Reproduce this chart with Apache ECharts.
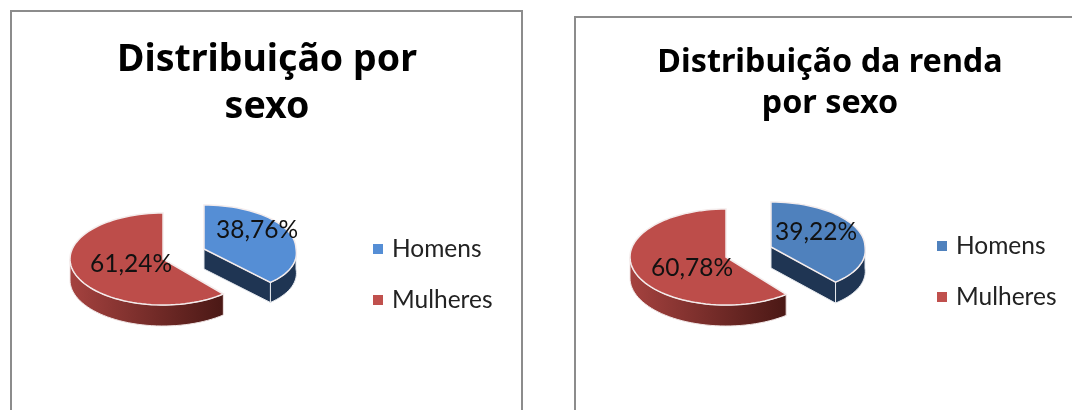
<!DOCTYPE html>
<html>
<head>
<meta charset="utf-8">
<style>
  html, body { margin: 0; padding: 0; background: #fff; }
  #chart { width: 1072px; height: 410px; }
</style>
<script src="https://cdn.jsdelivr.net/npm/echarts@6/dist/echarts.min.js"></script>
</head>
<body>
<div id="chart"></div>
<script>
// dados
var categorias = ["Homens", "Mulheres"];
var sexoValores = [38.76, 61.24];
var rendaValores = [39.22, 60.78];
var tituloSexo = "Distribuição por\nsexo";
var tituloRenda = "Distribuição da renda\npor sexo";

var TEXT_FONT = "Lato";
var TITLE_FONT = "Noto Sans";

// ponto da elipse, angulo em graus no sentido horario a partir do topo
function pt(g, deg, depth) {
  var r = deg * Math.PI / 180;
  var dy = -g.ry * Math.cos(r);
  // a perspectiva puxa a metade da frente para a direita
  var skew = (g.skew || 0) * Math.max(0, dy);
  return [g.cx + g.rx * Math.sin(r) + skew, g.cy + dy + (depth || 0)];
}

function arc(g, a0, a1, depth) {
  var pts = [];
  var n = Math.max(2, Math.ceil(Math.abs(a1 - a0) / 3));
  for (var i = 0; i <= n; i++) {
    pts.push(pt(g, a0 + (a1 - a0) * i / n, depth));
  }
  return pts;
}

// fatia 3D: lateral, corte e topo desenhados a partir do valor
function fatia(g, start, share, topColor, rimColor, labelPos) {
  return function (params, api) {
    var value = api.value(0);
    var a0 = start;
    var a1 = start + share * 3.6;
    var kids = [];
    // lateral visivel: so a parte da frente (90 a 270 graus)
    var f0 = Math.max(a0, 90);
    var f1 = Math.min(a1, 270);
    if (f1 > f0) {
      var rim = arc(g, f0, f1, 0).concat(arc(g, f1, f0, g.depth));
      kids.push({ type: "polygon", shape: { points: rim }, style: { fill: rimColor, stroke: g.edge, lineWidth: 1 } });
    }
    if (g.cut) {
      var c = [g.cx, g.cy];
      var e = pt(g, a1);
      var cutFace = [c, e, [e[0], e[1] + g.depth], [c[0], c[1] + g.depth]];
      kids.push({ type: "polygon", shape: { points: cutFace }, style: { fill: g.cutColor, stroke: g.edge, lineWidth: 1 } });
    }
    var top = [[g.cx, g.cy]].concat(arc(g, a0, a1, 0));
    kids.push({ type: "polygon", shape: { points: top }, style: { fill: topColor, stroke: "#f4ecec", lineWidth: 1.5 } });
    kids.push({
      type: "text",
      z2: 50,
      style: {
        x: labelPos[0], y: labelPos[1],
        text: value.toFixed(2).replace(".", ",") + "%",
        fill: "#111", font: "24.5px " + TEXT_FONT,
        align: "center", verticalAlign: "middle"
      }
    });
    return { type: "group", children: kids };
  };
}

function rimGradient() {
  return new echarts.graphic.LinearGradient(0, 0, 1, 0, [
    { offset: 0, color: "#a5423f" },
    { offset: 1, color: "#4a1815" }
  ]);
}

function pizza(valores, azul, gAzul, gVerm, posAzul, posVerm) {
  return [
    {
      name: categorias[0], type: "custom", coordinateSystem: "none", silent: true,
      itemStyle: { color: azul }, data: [[valores[0]]],
      renderItem: fatia(gAzul, 0, valores[0], azul, "#1f3553", posAzul)
    },
    {
      name: categorias[1], type: "custom", coordinateSystem: "none", silent: true,
      itemStyle: { color: "#c0504d" }, data: [[valores[1]]],
      renderItem: fatia(gVerm, valores[0] * 3.6, valores[1], "#bd4d4a", rimGradient(), posVerm)
    }
  ];
}

function legenda(left, top, azul) {
  return {
    left: left, top: top, orient: "vertical", icon: "rect",
    itemWidth: 10, itemHeight: 10, itemGap: 23, selectedMode: false,
    textStyle: { fontFamily: TEXT_FONT, fontSize: 24.5, color: "#222", padding: [0, 0, 0, 4], lineHeight: 28 },
    data: [
      { name: categorias[0], itemStyle: { color: azul } },
      { name: categorias[1], itemStyle: { color: "#c0504d" } }
    ]
  };
}

function titulo(text, x, y, size, lineHeight) {
  return {
    text: text, left: x, top: y, textAlign: "center",
    textStyle: { fontFamily: TITLE_FONT, fontWeight: "bold", fontSize: size, color: "#000", lineHeight: lineHeight }
  };
}

var chart = echarts.init(document.getElementById("chart"), null, { renderer: "canvas" });

var azul1 = "#558ed5";
var azul2 = "#4f81bd";

var series = pizza(sexoValores, azul1,
  { cx: 204, cy: 249, rx: 92, ry: 44, skew: 0.2, depth: 20, cut: true, cutColor: "#1f3553", edge: "#e6e9ee" },
  { cx: 163, cy: 259, rx: 93, ry: 46, depth: 21, edge: "#f0e4e4" },
  [257, 230], [131, 264]
).concat(pizza(rendaValores, azul2,
  { cx: 771, cy: 247, rx: 94, ry: 45, skew: 0.16, depth: 21, cut: true, cutColor: "#1f3553", edge: "#e6e9ee" },
  { cx: 726, cy: 257, rx: 96, ry: 48, depth: 21, edge: "#f0e4e4" },
  [816, 232], [692, 268]
));

chart.setOption({
  animation: false,
  backgroundColor: "#fff",
  title: [
    titulo(tituloSexo, 262, 32, 37.5, 47),
    titulo(tituloRenda, 825, 37, 32.3, 41)
  ],
  legend: [legenda(368, 230, azul1), legenda(932, 227, azul2)],
  graphic: [
    { type: "rect", shape: { x: 11, y: 11, width: 511, height: 430 }, style: { fill: "none", stroke: "#8c8c8c", lineWidth: 2 } },
    { type: "rect", shape: { x: 575, y: 17, width: 540, height: 430 }, style: { fill: "none", stroke: "#8c8c8c", lineWidth: 2 } }
  ],
  series: series
});
</script>
</body>
</html>
